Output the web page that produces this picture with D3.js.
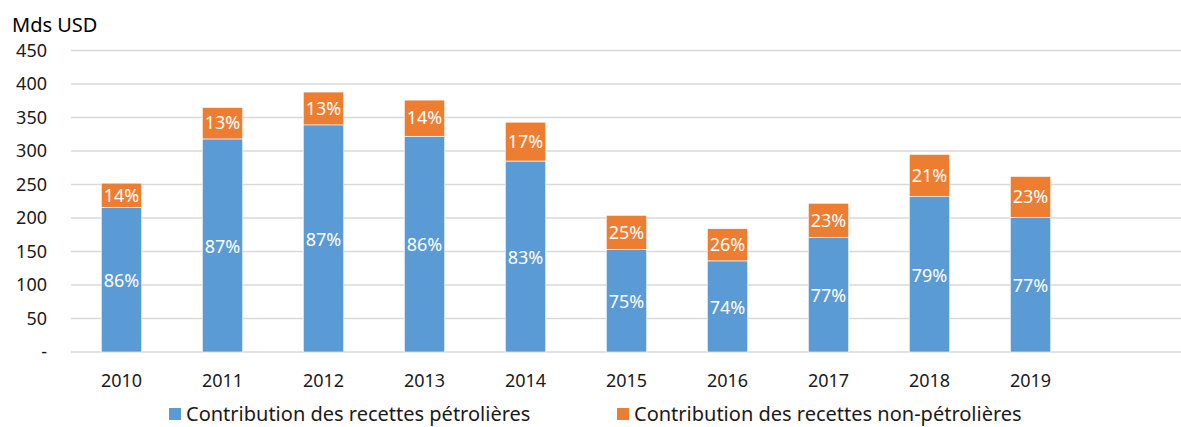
<!DOCTYPE html>
<html><head><meta charset="utf-8">
<script src="https://cdn.jsdelivr.net/npm/d3@7"></script>
<style>body{margin:0;background:#fff}svg{display:block}text{font-family:"Noto Sans","Open Sans",sans-serif}</style>
</head><body><svg id="c" width="1181" height="427"></svg>
<script>
const years = ["2010","2011","2012","2013","2014","2015","2016","2017","2018","2019"];
const oil = [216, 318, 339, 322, 285, 153, 136, 171, 232, 201];
const nonOil = [36, 47, 49, 54, 58, 51, 48, 51, 63, 61];
const oilPct = ["86%","87%","87%","86%","83%","75%","74%","77%","79%","77%"];
const nonOilPct = ["14%","13%","13%","14%","17%","25%","26%","23%","21%","23%"];
const yTicks = [0,50,100,150,200,250,300,350,400,450];
const seriesNames = ["Contribution des recettes pétrolières","Contribution des recettes non-pétrolières"];
const colors = ["#5B9BD5","#ED7D31"];

const svg = d3.select("#c");
const left = 71, right = 1181, y0 = 352, yTop = 50.5;
const x = d3.scaleBand().domain(years).range([left, left + 1010]).paddingInner(0.6).paddingOuter(0.3);
const y = d3.scaleLinear().domain([0,450]).range([y0, yTop]);
const fs = 18;

// gridlines
svg.append("g").selectAll("line").data(yTicks).join("line")
  .attr("x1", left).attr("x2", right)
  .attr("y1", d => y(d)).attr("y2", d => y(d))
  .attr("stroke", "#d9d9d9").attr("stroke-width", 1.5);

// y tick labels
svg.append("g").selectAll("text").data(yTicks).join("text")
  .attr("x", 47).attr("y", d => y(d)).attr("dy", "0.35em")
  .attr("text-anchor", "end").attr("font-size", fs).attr("fill", "#1a1a1a")
  .text(d => d === 0 ? "-" : d);

svg.append("text").attr("x", 12).attr("y", 32).attr("font-size", 20).attr("fill", "#000").text("Mds USD");

// x labels
svg.append("g").selectAll("text").data(years).join("text")
  .attr("x", d => x(d) + x.bandwidth()/2).attr("y", 387)
  .attr("text-anchor", "middle").attr("font-size", fs).attr("fill", "#1a1a1a").text(d => d);

// bars
const g = svg.append("g");
years.forEach((yr, i) => {
  const bx = x(yr), bw = x.bandwidth();
  const top1 = y(oil[i]), top2 = y(oil[i] + nonOil[i]);
  g.append("rect").attr("x", bx).attr("width", bw).attr("y", top1).attr("height", y0 - top1)
    .attr("fill", colors[0]).attr("stroke", "#fff").attr("stroke-width", 0.6);
  g.append("rect").attr("x", bx).attr("width", bw).attr("y", top2).attr("height", top1 - top2)
    .attr("fill", colors[1]).attr("stroke", "#fff").attr("stroke-width", 0.6);
  g.append("text").attr("x", bx + bw/2).attr("y", (top1 + y0)/2 + 1).attr("dy", "0.35em")
    .attr("text-anchor", "middle").attr("font-size", fs).attr("fill", "#fff").text(oilPct[i]);
  g.append("text").attr("x", bx + bw/2).attr("y", (top1 + top2)/2).attr("dy", "0.35em")
    .attr("text-anchor", "middle").attr("font-size", fs).attr("fill", "#fff").text(nonOilPct[i]);
});

// legend
const legX = [169, 617];
seriesNames.forEach((n, i) => {
  svg.append("rect").attr("x", legX[i]).attr("y", 408).attr("width", 12).attr("height", 12).attr("fill", colors[i]);
  svg.append("text").attr("x", legX[i] + 17).attr("y", 421).attr("font-size", 20).attr("fill", "#1a1a1a").text(n);
});
</script></body></html>
